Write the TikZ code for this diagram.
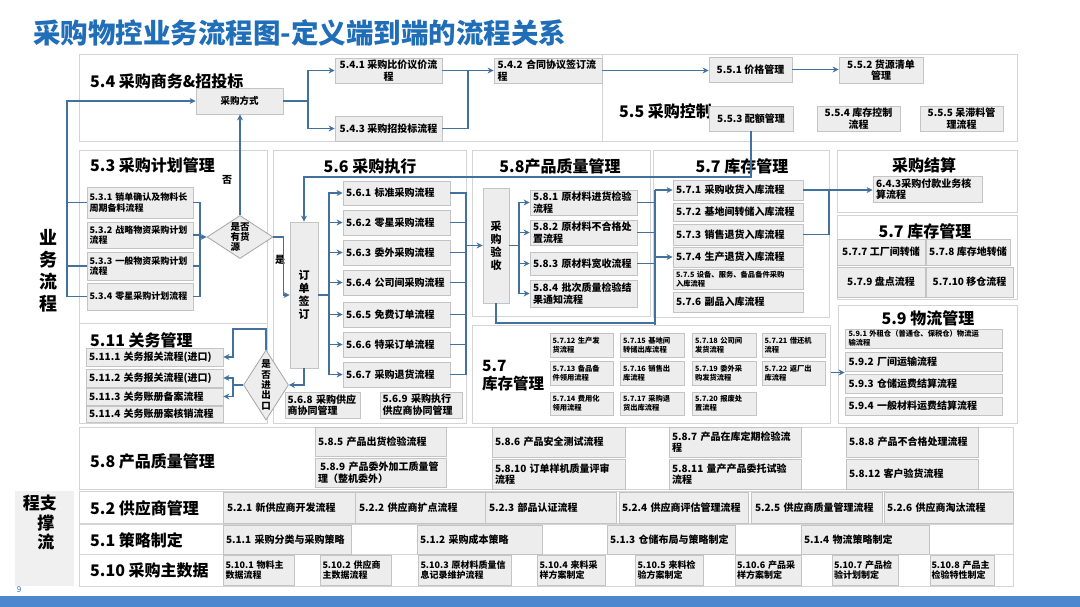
\documentclass[tikz,border=0pt]{standalone}
\usepackage{fontspec}
\setmainfont{Noto Sans CJK SC}
\usetikzlibrary{shapes.geometric,arrows.meta,calc,shadows}
\definecolor{ttl}{HTML}{1F6EB7}
\definecolor{ln}{HTML}{41719C}
\definecolor{bxf}{HTML}{EDEDED}
\definecolor{bxd}{HTML}{C4C4C4}
\definecolor{pnlc}{HTML}{D4D4D4}
\definecolor{barc}{HTML}{4D87CE}
\pgfdeclarelayer{pback}
\pgfdeclarelayer{plines}
\pgfdeclarelayer{pfront}
\pgfsetlayers{pback,plines,pfront,main}
\tikzset{
 pnl/.style={draw=pnlc, fill=white, line width=1pt},
 bxs/.style={draw=bxd, fill=bxf, line width=0.8pt, inner sep=0pt, align=center,
   drop shadow={shadow xshift=1.2pt, shadow yshift=-1.2pt, opacity=0.3, fill=gray},
   font=\bfseries\fontsize{10}{11.6}\selectfont},
 fsm/.style={font=\bfseries\fontsize{9}{10.8}\selectfont},
 ftn/.style={font=\bfseries\fontsize{7.3}{9}\selectfont},
 lt/.style={align=left, text width=#1},
 hd/.style={font=\bfseries\fontsize{16}{19}\selectfont, inner sep=0pt},
 con/.style={draw=ln, line width=1.8pt},
 arr/.style={con, -{Stealth[length=6pt,width=6pt]}},
 dia/.style={draw=gray!70, fill=bxf, diamond, inner sep=0pt, line width=0.8pt},
}
\newcommand{\mybx}[7][]{%
  \pgfmathsetmacro\mybw{#5-#3}\pgfmathsetmacro\mybh{#6-#4}%
  \pgfmathsetmacro\mybcx{(#3+#5)/2}\pgfmathsetmacro\mybcy{(#4+#6)/2}%
  \node[bxs, minimum width=\mybw pt, minimum height=\mybh pt, #1] (#2) at (\mybcx,\mybcy) {#7};}
\hbadness=10000 \hfuzz=50pt
\begin{document}
\begin{tikzpicture}[x=1pt,y=-1pt]
\useasboundingbox (0,0) rectangle (1080,607);
\begin{pgfonlayer}{pback}
\fill[white] (0,0) rectangle (1080,607);
\draw[pnl] (79,55) rectangle (602,142);
\draw[pnl] (602,55) rectangle (1017,142);
\draw[pnl] (79,151) rectangle (267,323);
\draw[pnl] (79,323) rectangle (267,423);
\draw[pnl] (273,151) rectangle (466,423);
\draw[pnl] (472,151) rectangle (650,316);
\draw[pnl] (653,151) rectangle (829,317);
\draw[pnl] (837,151) rectangle (1017,213);
\draw[pnl] (837,216) rectangle (1017,299);
\draw[pnl] (838,305) rectangle (1017,423);
\draw[pnl] (79,427) rectangle (1013,489);
\draw[pnl] (79,491) rectangle (1013,523);
\draw[pnl] (79,524) rectangle (1013,554);
\draw[pnl] (79,554) rectangle (1013,586);
\fill[gray!12] (15,491) rectangle (74,586);
\end{pgfonlayer}
\begin{pgfonlayer}{pfront}
\draw[pnl] (472,325) rectangle (830,423);
\end{pgfonlayer}

% title and page
\node[anchor=west, text=ttl, font=\bfseries\fontsize{27.5}{30}\selectfont, inner sep=0pt] (title) at (33,33) {采购物控业务流程图-定义端到端的流程关系};
\fill[barc] (0,596) rectangle (1080,607);
\node[text=ttl, font=\fontsize{8}{8}\selectfont, inner sep=0pt] (pg) at (19,590) {9};

% side labels
\node[font=\bfseries\fontsize{18}{22}\selectfont, align=center, inner sep=0pt] (yw) at (48,271) {业\\务\\流\\程};
\node[font=\bfseries\fontsize{17}{17}\selectfont, inner sep=0pt] (zc1) at (40,503) {程支};
\node[font=\bfseries\fontsize{17}{17}\selectfont, inner sep=0pt] (zc2) at (46,523) {撑};
\node[font=\bfseries\fontsize{17}{17}\selectfont, inner sep=0pt] (zc3) at (46,542) {流};

% headings
\node[hd, anchor=west] (h54) at (90,81) {5.4 采购商务\&招投标};
\node[hd, anchor=west] (h55) at (619,111) {5.5 采购控制};
\node[hd, anchor=west] (h53) at (90,165) {5.3 采购计划管理};
\node[hd, anchor=west] (h511) at (90,340) {5.11 关务管理};
\node[hd] (h56) at (370,166) {5.6 采购执行};
\node[hd] (h58) at (560,166) {5.8产品质量管理};
\node[hd] (h57) at (742,166) {5.7 库存管理};
\node[hd] (hjs) at (924,165) {采购结算};
\node[hd] (h57r) at (925,231) {5.7 库存管理};
\node[hd] (h59) at (928,318) {5.9 物流管理};
\node[hd, anchor=west, align=left, font=\bfseries\fontsize{15.5}{18}\selectfont] (h57l) at (482,376) {5.7\\库存管理};
\node[hd, anchor=west] (h58b) at (90,461) {5.8 产品质量管理};
\node[hd, anchor=west] (h52) at (90,508) {5.2 供应商管理};
\node[hd, anchor=west] (h51) at (90,540) {5.1 策略制定};
\node[hd, anchor=west] (h510) at (90,570) {5.10 采购主数据};
\node[font=\bfseries\fontsize{10}{10}\selectfont, inner sep=0pt] (lno) at (227,180) {否};
\node[font=\bfseries\fontsize{10}{10}\selectfont, inner sep=0pt] (lyes) at (280,260) {是};

% 5.4 / 5.5
\mybx[font=\bfseries\fontsize{9.5}{11}\selectfont]{cgfs}{196}{88}{283}{114}{采购方式}
\mybx{b541}{335}{58}{442}{83}{5.4.1~采购比价议价流\\程}
\mybx{b543}{335}{116}{442}{141}{5.4.3~采购招投标流程}
\mybx[lt=101pt]{b542}{494}{58}{602}{83}{5.4.2~合同协议签订流\\程}
\mybx{b551}{709}{57}{792}{82}{5.5.1~价格管理}
\mybx{b552}{839}{57}{923}{83}{5.5.2~货源清单\\管理}
\mybx{b553}{709}{106}{793}{131}{5.5.3~配额管理}
\mybx{b554}{817}{106}{900}{131}{5.5.4~库存控制\\流程}
\mybx{b555}{920}{106}{1003}{131}{5.5.5~呆滞料管\\理流程}

% 5.3
\mybx[fsm,lt=101pt]{b531}{87}{187}{193}{218}{5.3.1~销单确认及物料长\\周期备料流程}
\mybx[fsm,lt=101pt]{b532}{87}{222}{193}{248}{5.3.2~战略物资采购计划\\流程}
\mybx[fsm,lt=101pt]{b533}{87}{252}{193}{280}{5.3.3~一般物资采购计划\\流程}
\mybx[fsm,lt=101pt]{b534}{87}{283}{193}{310}{5.3.4~零星采购计划流程}
\node[dia, minimum width=66pt, minimum height=43pt] (dhy) at (240,237) {};
\node[font=\bfseries\fontsize{9.5}{10}\selectfont, align=left, inner sep=0pt] (dhyt) at (dhy) {是否\\有货\\源};

% 5.11
\mybx[lt=131pt]{b5111}{86}{348}{223}{366}{5.11.1~关务报关流程(进口)}
\mybx[lt=131pt]{b5112}{86}{369}{223}{387}{5.11.2~关务报关流程(进口)}
\mybx[lt=131pt]{b5113}{86}{388}{223}{405}{5.11.3~关务账册备案流程}
\mybx[lt=131pt]{b5114}{86}{406}{223}{422}{5.11.4~关务账册案核销流程}
\node[dia, minimum width=45pt, minimum height=70pt] (dcjk) at (266,385) {};
\node[font=\bfseries\fontsize{9.5}{10.3}\selectfont, align=center, inner sep=0pt] (dcjkt) at (dcjk) {是\\否\\进\\出\\口};

% 5.6
\mybx[font=\bfseries\fontsize{11}{13}\selectfont]{ddqd}{290}{222}{318}{368}{订\\单\\签\\订}
\mybx[lt=101pt]{b561}{343}{181}{450}{205}{5.6.1~标准采购流程}
\mybx[lt=101pt]{b562}{343}{210}{450}{235}{5.6.2~零星采购流程}
\mybx[lt=101pt]{b563}{343}{240}{450}{265}{5.6.3~委外采购流程}
\mybx[lt=101pt]{b564}{343}{270}{450}{295}{5.6.4~公司间采购流程}
\mybx[lt=101pt]{b565}{343}{302}{450}{327}{5.6.5~免费订单流程}
\mybx[lt=101pt]{b566}{343}{332}{450}{357}{5.6.6~特采订单流程}
\mybx[lt=101pt]{b567}{343}{362}{450}{387}{5.6.7~采购退货流程}
\mybx[lt=70pt]{b568}{285}{392}{360}{418}{5.6.8~采购供应\\商协同管理}
\mybx[lt=77pt]{b569}{380}{392}{462}{418}{5.6.9~采购执行\\供应商协同管理}

% 5.8 upper
\mybx[font=\bfseries\fontsize{11}{13}\selectfont]{cgys}{483}{188}{509}{303}{采\\购\\验\\收}
\mybx[lt=101pt]{b581}{530}{190}{637}{215}{5.8.1~原材料进货检验\\流程}
\mybx[lt=101pt]{b582}{530}{220}{637}{245}{5.8.2~原材料不合格处\\置流程}
\mybx[lt=101pt]{b583}{530}{252}{637}{275}{5.8.3~原材料宽收流程}
\mybx[lt=101pt]{b584}{530}{280}{637}{307}{5.8.4~批次质量检验结\\果通知流程}

% 5.7 upper
\mybx[lt=124pt]{b571}{673}{180}{803}{200}{5.7.1~采购收货入库流程}
\mybx[lt=124pt]{b572}{673}{203}{803}{221}{5.7.2~基地间转储入库流程}
\mybx[lt=124pt]{b573}{673}{224}{803}{245}{5.7.3~销售退货入库流程}
\mybx[lt=124pt]{b574}{673}{247}{803}{267}{5.7.4~生产退货入库流程}
\mybx[ftn,lt=124pt]{b575}{673}{269}{803}{289}{5.7.5~设备、服务、备品备件采购\\入库流程}
\mybx[lt=124pt]{b576}{673}{292}{803}{312}{5.7.6~副品入库流程}

% right column
\mybx[lt=103pt]{b643}{873}{176}{982}{202}{6.4.3采购付款业务核\\算流程}
\mybx{b577}{837}{239}{925}{265}{5.7.7~工厂间转储}
\mybx{b578}{926}{239}{1010}{265}{5.7.8~库存地转储}
\mybx{b579}{837}{267}{925}{297}{5.7.9~盘点流程}
\mybx{b5710}{926}{267}{1013}{297}{5.7.10~移仓流程}
\mybx[ftn,lt=150pt]{b591}{845}{329}{1002}{348}{5.9.1~外租仓（普通仓、保税仓）物流运\\输流程}
\mybx[lt=150pt]{b592}{845}{352}{1002}{371}{5.9.2~厂间运输流程}
\mybx[lt=150pt]{b593}{845}{374}{1002}{393}{5.9.3~仓储运费结算流程}
\mybx[lt=150pt]{b594}{845}{397}{1002}{415}{5.9.4~一般材料运费结算流程}

% 5.7 lower grid
\mybx[ftn,lt=58pt]{b5712}{550}{333}{613}{357}{5.7.12~生产发\\货流程}
\mybx[ftn,lt=58pt]{b5715}{620}{333}{684}{357}{5.7.15~基地间\\转储出库流程}
\mybx[ftn,lt=58pt]{b5718}{692}{333}{756}{357}{5.7.18~公司间\\发货流程}
\mybx[ftn,lt=58pt]{b5721}{762}{333}{825}{357}{5.7.21~借还机\\流程}
\mybx[ftn,lt=58pt]{b5713}{550}{361}{613}{385}{5.7.13~备品备\\件领用流程}
\mybx[ftn,lt=58pt]{b5716}{620}{361}{684}{385}{5.7.16~销售出\\库流程}
\mybx[ftn,lt=58pt]{b5719}{692}{361}{756}{385}{5.7.19~委外采\\购发货流程}
\mybx[ftn,lt=58pt]{b5722}{762}{361}{825}{385}{5.7.22~返厂出\\库流程}
\mybx[ftn,lt=58pt]{b5714}{550}{392}{613}{415}{5.7.14~费用化\\领用流程}
\mybx[ftn,lt=58pt]{b5717}{620}{392}{684}{415}{5.7.17~采购退\\货出库流程}
\mybx[ftn,lt=58pt]{b5720}{692}{392}{756}{415}{5.7.20~报废处\\置流程}

% 5.8 lower
\mybx[lt=125pt]{b585}{315}{427}{446}{456}{5.8.5~产品出货检验流程}
\mybx[lt=125pt]{b589}{315}{458}{446}{487}{\hspace{2pt}5.8.9~产品委外加工质量管\\理（整机委外）}
\mybx[lt=127pt]{b586}{492}{427}{625}{457}{5.8.6~产品安全测试流程}
\mybx[lt=127pt]{b5810}{492}{459}{625}{489}{5.8.10~订单样机质量评审\\流程}
\mybx[lt=126pt]{b587}{669}{427}{801}{457}{5.8.7~产品在库定期检验流\\程}
\mybx[lt=126pt]{b5811}{669}{459}{801}{489}{5.8.11~量产产品委托试验\\流程}
\mybx[lt=126pt]{b588}{846}{427}{978}{457}{5.8.8~产品不合格处理流程}
\mybx[lt=126pt]{b5812}{846}{459}{978}{489}{5.8.12~客户验货流程}

% 5.2
\mybx[lt=124pt]{b521}{223}{492}{355}{523}{5.2.1~新供应商开发流程}
\mybx[lt=122pt]{b522}{355}{492}{485}{523}{5.2.2~供应商扩点流程}
\mybx[lt=123pt]{b523}{485}{492}{616}{523}{5.2.3~部品认证流程}
\mybx[lt=123pt]{b524}{619}{492}{748}{523}{5.2.4~供应商评估管理流程}
\mybx[lt=123pt]{b525}{751}{492}{882}{523}{5.2.5~供应商质量管理流程}
\mybx[lt=123pt]{b526}{884}{492}{1013}{523}{5.2.6~供应商淘汰流程}
% 5.1
\mybx[lt=122pt]{b511}{223}{525}{351}{554}{5.1.1~采购分类与采购策略}
\mybx[lt=119pt]{b512}{417}{525}{542}{554}{5.1.2~采购成本策略}
\mybx[lt=122pt]{b513}{607}{525}{735}{554}{5.1.3~仓储布局与策略制定}
\mybx[lt=122pt]{b514}{801}{525}{929}{554}{5.1.4~物流策略制定}
% 5.10
\mybx[fsm,lt=66pt]{b5101}{223}{555}{294}{585}{5.10.1~物料主\\数据流程}
\mybx[fsm,lt=66pt]{b5102}{320}{555}{391}{585}{5.10.2~供应商\\主数据流程}
\mybx[fsm,lt=88pt]{b5103}{418}{555}{511}{585}{5.10.3~原材料质量信\\息记录维护流程}
\mybx[fsm,lt=63pt]{b5104}{537}{555}{605}{585}{5.10.4~来料采\\样方案制定}
\mybx[fsm,lt=63pt]{b5105}{635}{555}{703}{585}{5.10.5~来料检\\验方案制定}
\mybx[fsm,lt=62pt]{b5106}{735}{555}{801}{585}{5.10.6~产品采\\样方案制定}
\mybx[fsm,lt=62pt]{b5107}{832}{555}{898}{585}{5.10.7~产品检\\验计划制定}
\mybx[fsm,lt=61pt]{b5108}{930}{555}{994}{585}{5.10.8~产品主\\检验特性制定}

% ---------- connectors ----------
\coordinate (lbus) at (67,101);
\coordinate (rbus) at (200,237);
\coordinate (j1) at (308,101);
\coordinate (j2) at (468,70.5);
\coordinate (b56l) at (329,295);
\coordinate (b56r) at (466,245.5);
\coordinate (b58l) at (519,245.5);
\coordinate (b57l) at (655,190);
\coordinate (b57r) at (829,190);
\coordinate (jq) at (655,323);
\coordinate (k1) at (233,329);
\coordinate (k2) at (233,385);

% 5.3 -> 采购方式
\draw[arr] (b534.west) -| (lbus) -- (cgfs.west);
\draw[con] (b531.west) -- (b531.west -| lbus);
\draw[con] (b533.west) -- (b533.west -| lbus);
% 5.3 -> diamond
\foreach \b in {b531,b532,b533,b534} {\draw[con] (\b.east) -| (rbus);}
\draw[arr] (rbus) -- (dhy.west);
\draw[arr] (dhy.north) -- (dhy.north |- cgfs.south);
\draw[arr] (dhy.east) -- ++(10,0) |- (ddqd.west);
% 5.4
\draw[con] (cgfs.east) -- (j1);
\draw[arr] (j1) |- (b541.west);
\draw[arr] (j1) |- (b543.west);
\draw[con] (b541.east) -- (j2);
\draw[con] (b543.east) -| (j2);
\draw[arr] (j2) -- (b542.west);
\draw[arr] (b542.east) -- (b542.east -| b551.west);
\draw[arr] (b551.east) -- (b551.east -| b552.west);
% 5.5.3 -> 订单签订
\draw[arr] (b553.south) -- ++(0,46) -| (ddqd.north);
% 订单签订 -> 5.6
\draw[con] (ddqd.east) -- (b56l);
\foreach \b in {b561,b562,b563,b564,b565,b566,b567} {\draw[arr] (b56l) |- (\b.west);}
\foreach \b in {b561,b562,b563,b564,b565,b566,b567} {\draw[con] (\b.east) -| (b56r);}
\draw[arr] (b56r) -- (cgys.west);
% 采购验收 -> 5.8
\draw[con] (cgys.east) -- (b58l);
\foreach \b in {b581,b582,b583,b584} {\draw[arr] (b58l) |- (\b.west);}
\foreach \b in {b581,b582,b583} {\draw[con] (\b.east) -| (b57l);}
\draw[arr] (b57l) -- (b571.west);
\draw[arr] (b574.west -| b57l) -- (b574.west);
\draw[con] (cgys.south) |- (jq);
\draw[con] (b57l) -- (jq);
\begin{pgfonlayer}{plines}
\draw[arr] (jq) |- ($(b592.south west)!0.5!(b593.north west)$);
\end{pgfonlayer}
% 5.7 -> 6.4.3
\draw[con] (b571.east) -- (b57r);
\draw[con] (b573.east) -| (b57r);
\draw[arr] (b57r) -- (b57r -| b643.west);
% 订单签订 -> 是否进出口
\draw[arr] (ddqd.south) |- (dcjk.east);
\draw[arr] (dcjk.north) |- (k1) |- (b5111.east);
\draw[con] (dcjk.west) -- (k2);
\draw[arr] (k2) |- (b5112.east);
\draw[arr] (k2) |- (b5113.east);
\end{tikzpicture}
\end{document}
